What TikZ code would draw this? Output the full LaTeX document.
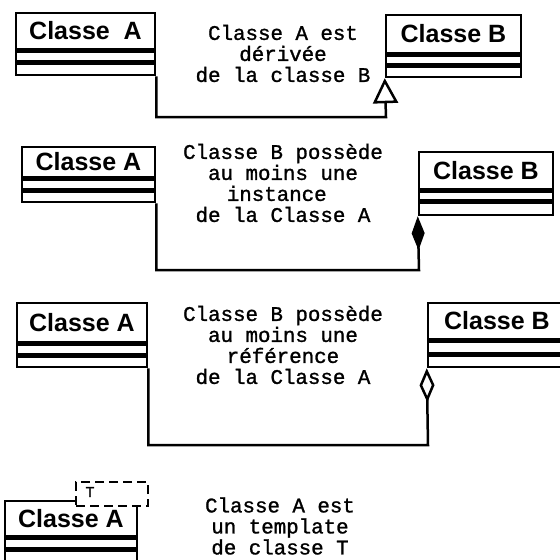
\documentclass[tikz,border=0pt]{standalone}
\usepackage{fontspec}
\newfontfamily\namefont{Liberation Sans}
\newfontfamily\codefont{Liberation Mono}[FakeBold=1.2]
\usetikzlibrary{arrows.meta}
\tikzset{
  namebox/.style={draw, line width=2.5pt, inner sep=0pt, font=\namefont\bfseries\fontsize{25}{25}\selectfont},
  compbox/.style={draw, line width=2.5pt, inner sep=0pt, anchor=north},
  desc/.style={inner sep=0pt, align=center, font=\codefont\fontsize{20.8}{21}\selectfont},
  link/.style={line width=2.5pt},
  inherit/.style={link, -{Triangle[open, length=25pt, width=25pt]}},
  compose/.style={link, -{Diamond[length=34pt, width=13pt]}},
  aggreg/.style={link, -{Diamond[open, length=34pt, width=15pt]}},
  tmplbox/.style={draw, line width=2.5pt, dash pattern=on 9pt off 5pt, fill=white, inner sep=0pt},
  tmpllabel/.style={inner sep=0pt, font=\codefont\fontsize{15}{15}\selectfont}
}
\begin{document}
\begin{tikzpicture}[x=1pt, y=-1pt]
\useasboundingbox (0,0) rectangle (560,560);
\clip (0,0) rectangle (560,560);

% ---------- Panel 1 : inheritance ----------
\node[namebox, minimum width=139, minimum height=36] (A1) at (85.5,31) {Classe\ \ A};
\node[compbox, minimum width=139, minimum height=10] (A1a) at (A1.south) {};
\node[compbox, minimum width=139, minimum height=11] (A1b) at (A1a.south) {};
\node[namebox, minimum width=135, minimum height=38] (B1) at (453.5,34) {Classe B};
\node[compbox, minimum width=135, minimum height=9] (B1a) at (B1.south) {};
\node[compbox, minimum width=135, minimum height=10] (B1b) at (B1a.south) {};
\node[desc] (t1) at (283,53.5) {Classe A est\\dérivée\\de la classe B};
\coordinate (k1) at (386,117);
\draw[inherit] (A1b.south east) |- (k1) -- (B1b.south west);

% ---------- Panel 2 : composition ----------
\node[namebox, minimum width=133, minimum height=30] (A2) at (88.5,162) {Classe A};
\node[compbox, minimum width=133, minimum height=10] (A2a) at (A2.south) {};
\node[compbox, minimum width=133, minimum height=10] (A2b) at (A2a.south) {};
\node[namebox, minimum width=134, minimum height=37] (B2) at (486,170.5) {Classe B};
\node[compbox, minimum width=134, minimum height=9] (B2a) at (B2.south) {};
\node[compbox, minimum width=134, minimum height=12] (B2b) at (B2a.south) {};
\node[desc] (t2) at (283,183) {Classe B possède\\au moins une\\instance\phantom{x}\\de la Classe A};
\coordinate (k2) at (419,270);
\draw[compose] (A2b.south east) |- (k2) -- (B2b.south west);

% ---------- Panel 3 : aggregation ----------
\node[namebox, minimum width=130, minimum height=39] (A3) at (82,322.5) {Classe A};
\node[compbox, minimum width=130, minimum height=10] (A3a) at (A3.south) {};
\node[compbox, minimum width=130, minimum height=10] (A3b) at (A3a.south) {};
\node[namebox, minimum width=138, minimum height=36] (B3) at (497,321) {Classe B};
\node[compbox, minimum width=138, minimum height=12] (B3a) at (B3.south) {};
\node[compbox, minimum width=138, minimum height=11] (B3b) at (B3a.south) {};
\node[desc] (t3) at (283,345) {Classe B possède\\au moins une\\référence\\de la Classe A};
\coordinate (k3) at (428,445);
\draw[aggreg] (A3b.south east) |- (k3) -- (B3b.south west);

% ---------- Panel 4 : template ----------
\node[namebox, minimum width=132, minimum height=35] (A4) at (71,518.5) {Classe A};
\node[compbox, minimum width=132, minimum height=10] (A4a) at (A4.south) {};
\node[compbox, minimum width=132, minimum height=10] (A4b) at (A4a.south) {};
\node[tmplbox, minimum width=72, minimum height=24] (T4) at (112,494) {};
\node[tmpllabel] (T4l) at (90,492) {T};
\node[desc] (t4) at (280,526) {Classe A est\\un template\\de classe T};
\end{tikzpicture}
\end{document}
